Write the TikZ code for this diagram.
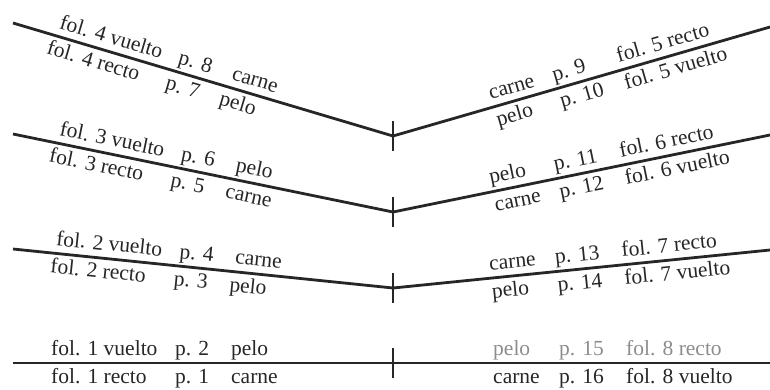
\documentclass[tikz,border=0pt]{standalone}
\usepackage{fontspec}
\setmainfont{Liberation Serif}
\usetikzlibrary{calc}
\tikzset{
  fold/.style = {line width=2.8pt, draw=black!85, line join=round},
  tick/.style = {line width=2.6pt, draw=black!85},
  up/.style   = {sloped, anchor=base west, yshift=8pt, inner sep=0pt, text=black!85},
  dn/.style   = {sloped, anchor=base west, yshift=-20pt, inner sep=0pt, text=black!85},
  pale/.style = {text=black!45},
}
\newcommand{\lrow}[3]{\makebox[124pt][l]{#1}\makebox[56pt][l]{#2}#3}
\newcommand{\rrow}[3]{\makebox[66pt][l]{#1}\makebox[67pt][l]{#2}#3}

\begin{document}
\begin{tikzpicture}[x=1pt, y=-1pt, font=\fontsize{21.5}{24}\selectfont]
  \useasboundingbox (0,0) rectangle (770,389);

  % fold points of the four bifolia
  \coordinate (l4) at (13,23);  \coordinate (v4) at (393,136); \coordinate (r4) at (770,27);
  \coordinate (l3) at (13,134); \coordinate (v3) at (393,212); \coordinate (r3) at (770,135);
  \coordinate (l2) at (13,249); \coordinate (v2) at (393,288); \coordinate (r2) at (770,250);
  \coordinate (l1) at (13,363); \coordinate (v1) at (393,363); \coordinate (r1) at (770,363);

  \draw[fold] (l4) -- (v4) -- (r4);
  \draw[fold] (l3) -- (v3) -- (r3);
  \draw[fold] (l2) -- (v2) -- (r2);
  \draw[fold] (l1) -- (v1) -- (r1);

  \draw[tick] ([yshift=15pt]v4) -- ([yshift=-15pt]v4);
  \draw[tick] ([yshift=15pt]v3) -- ([yshift=-15pt]v3);
  \draw[tick] ([yshift=15pt]v2) -- ([yshift=-15pt]v2);
  \draw[tick] ([yshift=15pt]v1) -- ([yshift=-15pt]v1);

  % folio 4 / 5
  \path (l4) -- (v4)
    node[up, pos=0, xshift=45pt] (f4v) {\lrow{fol. 4 vuelto}{p. 8}{carne}}
    node[dn, pos=0, xshift=40pt] (f4r) {\lrow{fol. 4 recto}{p. 7}{pelo}};
  \path (v4) -- (r4)
    node[up, pos=0, xshift=104pt] (f5r) {\rrow{carne}{p. 9}{fol. 5 recto}}
    node[dn, pos=0, xshift=104pt] (f5v) {\rrow{pelo}{p. 10}{fol. 5 vuelto}};

  % folio 3 / 6
  \path (l3) -- (v3)
    node[up, pos=0, xshift=45pt] (f3v) {\lrow{fol. 3 vuelto}{p. 6}{pelo}}
    node[dn, pos=0, xshift=40pt] (f3r) {\lrow{fol. 3 recto}{p. 5}{carne}};
  \path (v3) -- (r3)
    node[up, pos=0, xshift=101pt] (f6r) {\rrow{pelo}{p. 11}{fol. 6 recto}}
    node[dn, pos=0, xshift=101pt] (f6v) {\rrow{carne}{p. 12}{fol. 6 vuelto}};

  % folio 2 / 7
  \path (l2) -- (v2)
    node[up, pos=0, xshift=42pt] (f2v) {\lrow{fol. 2 vuelto}{p. 4}{carne}}
    node[dn, pos=0, xshift=39pt] (f2r) {\lrow{fol. 2 recto}{p. 3}{pelo}};
  \path (v2) -- (r2)
    node[up, pos=0, xshift=98pt] (f7r) {\rrow{carne}{p. 13}{fol. 7 recto}}
    node[dn, pos=0, xshift=98pt] (f7v) {\rrow{pelo}{p. 14}{fol. 7 vuelto}};

  % folio 1 / 8
  \path (l1) -- (v1)
    node[up, pos=0, xshift=38pt] (f1v) {\lrow{fol. 1 vuelto}{p. 2}{pelo}}
    node[dn, pos=0, xshift=38pt] (f1r) {\lrow{fol. 1 recto}{p. 1}{carne}};
  \path (v1) -- (r1)
    node[up, pale, pos=0, xshift=100pt] (f8r) {\rrow{pelo}{p. 15}{fol. 8 recto}}
    node[dn, pos=0, xshift=100pt] (f8v) {\rrow{carne}{p. 16}{fol. 8 vuelto}};
\end{tikzpicture}
\end{document}
